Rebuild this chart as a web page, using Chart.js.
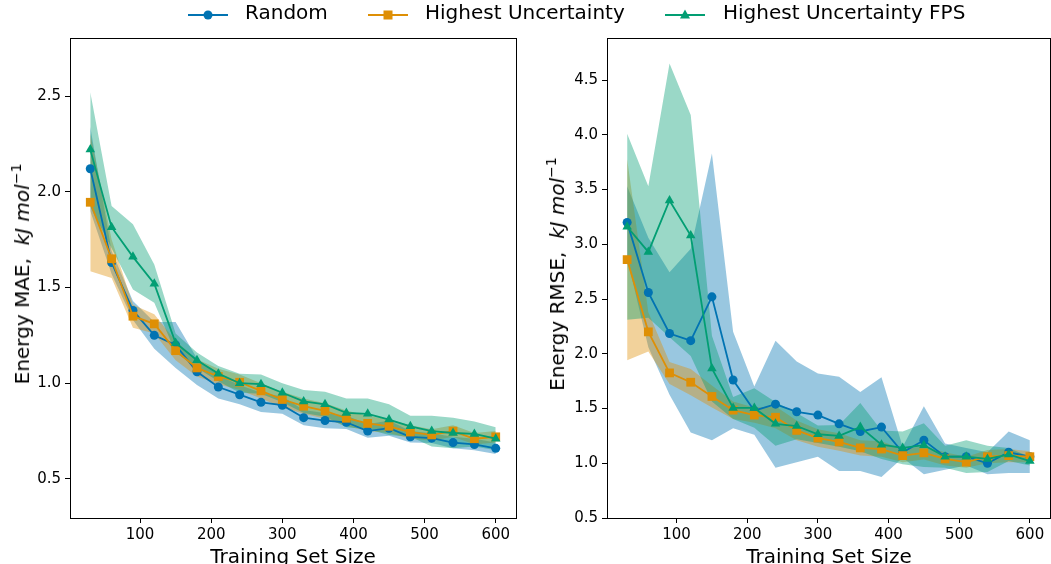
<!DOCTYPE html>
<html>
<head>
<meta charset="utf-8">
<script src="https://cdn.jsdelivr.net/npm/chart.js@4/dist/chart.umd.min.js"></script>
<style>
    body { margin: 0; width: 1051px; height: 564px; overflow: hidden; background: #fff; position: relative; font-family: 'DejaVu Sans', sans-serif; color: #000; }
    canvas { position: absolute; top: 0; }
    #c1 { left: 0; }
    #c2 { left: 530px; }
    .leg { position: absolute; top: 5px; height: 20px; }
    .leg-text { position: absolute; top: 2px; font-size: 20px; line-height: 20px; white-space: nowrap; }
    .ytitle { position: absolute; font-size: 20px; white-space: nowrap; transform: translate(-50%, -50%) rotate(-90deg); line-height: 1; }
    .ytitle i { font-style: italic; }
    .ytitle sup { font-size: 14px; vertical-align: 8px; line-height: 0; }
    .xtitle { position: absolute; top: 546px; font-size: 20px; line-height: 1; white-space: nowrap; transform: translateX(-50%); }
</style>
</head>
<body>
<canvas id="c1" width="530" height="564"></canvas>
<canvas id="c2" width="521" height="564"></canvas>

<svg class="leg" style="left:188px" width="40" height="20"><line x1="0" y1="10" x2="40" y2="10" stroke="#0173b2" stroke-width="2"/><circle cx="20" cy="10" r="4.5" fill="#0173b2"/></svg>
<div class="leg-text" style="left:245px">Random</div>
<svg class="leg" style="left:368px" width="40" height="20"><line x1="0" y1="10" x2="40" y2="10" stroke="#de8f05" stroke-width="2"/><rect x="15.5" y="5.5" width="9" height="9" fill="#de8f05"/></svg>
<div class="leg-text" style="left:425px">Highest Uncertainty</div>
<svg class="leg" style="left:665px" width="40" height="20"><line x1="0" y1="10" x2="40" y2="10" stroke="#029e73" stroke-width="2"/><polygon points="20,4.5 25,13.5 15,13.5" fill="#029e73"/></svg>
<div class="leg-text" style="left:723px">Highest Uncertainty FPS</div>

<div class="ytitle" style="left:22px;top:274px">Energy MAE,&nbsp; <i>kJ mol</i><sup>−1</sup></div>
<div class="ytitle" style="left:557px;top:274px">Energy RMSE,&nbsp; <i>kJ mol</i><sup>−1</sup></div>
<div class="xtitle" style="left:293px">Training Set Size</div>
<div class="xtitle" style="left:829px">Training Set Size</div>

<script>
// training set sizes
const sizes = [30, 60, 90, 120, 150, 180, 210, 240, 270, 300, 330, 360, 390, 420, 450, 480, 510, 540, 570, 600];

// energy MAE (mean and std)
const maeRandom = [2.12, 1.63, 1.38, 1.25, 1.20, 1.06, 0.98, 0.94, 0.90, 0.885, 0.82, 0.805, 0.796, 0.75, 0.765, 0.72, 0.713, 0.69, 0.68, 0.66];
const maeRandomStd = [0.22, 0.06, 0.05, 0.07, 0.12, 0.07, 0.06, 0.05, 0.05, 0.045, 0.04, 0.04, 0.035, 0.035, 0.04, 0.03, 0.025, 0.03, 0.03, 0.03];
const maeUnc = [1.945, 1.65, 1.35, 1.31, 1.17, 1.08, 1.035, 1.005, 0.96, 0.915, 0.88, 0.855, 0.817, 0.79, 0.775, 0.745, 0.73, 0.75, 0.71, 0.72];
const maeUncStd = [0.36, 0.10, 0.06, 0.05, 0.05, 0.045, 0.04, 0.04, 0.04, 0.04, 0.04, 0.04, 0.04, 0.04, 0.035, 0.035, 0.03, 0.03, 0.03, 0.03];
const maeFps = [2.22, 1.815, 1.66, 1.52, 1.21, 1.12, 1.05, 1.0, 0.995, 0.95, 0.905, 0.89, 0.845, 0.84, 0.81, 0.775, 0.75, 0.74, 0.735, 0.71];
const maeFpsStd = [0.30, 0.11, 0.17, 0.10, 0.05, 0.04, 0.04, 0.05, 0.05, 0.05, 0.06, 0.065, 0.075, 0.08, 0.08, 0.055, 0.08, 0.08, 0.065, 0.06];

// energy RMSE (mean and std)
const rmseRandom = [3.20, 2.56, 2.185, 2.12, 2.52, 1.76, 1.48, 1.54, 1.47, 1.44, 1.36, 1.29, 1.33, 1.10, 1.21, 1.06, 1.06, 1.00, 1.10, 1.06];
const rmseRandomStd = [0.33, 0.50, 0.56, 0.84, 1.31, 0.44, 0.22, 0.58, 0.46, 0.38, 0.43, 0.36, 0.455, 0.05, 0.31, 0.12, 0.08, 0.10, 0.19, 0.15];
const rmseUnc = [2.86, 2.20, 1.825, 1.74, 1.61, 1.485, 1.44, 1.42, 1.30, 1.23, 1.195, 1.14, 1.13, 1.07, 1.095, 1.04, 1.01, 1.06, 1.07, 1.06];
const rmseUncStd = [0.92, 0.18, 0.10, 0.12, 0.10, 0.08, 0.07, 0.10, 0.09, 0.08, 0.08, 0.07, 0.07, 0.06, 0.06, 0.06, 0.05, 0.06, 0.06, 0.05];
const rmseFps = [3.16, 2.93, 3.40, 3.08, 1.865, 1.505, 1.505, 1.36, 1.34, 1.265, 1.25, 1.33, 1.17, 1.14, 1.165, 1.06, 1.06, 1.04, 1.08, 1.02];
const rmseFpsStd = [0.85, 0.60, 1.25, 1.10, 0.30, 0.10, 0.18, 0.20, 0.12, 0.08, 0.10, 0.22, 0.13, 0.15, 0.20, 0.10, 0.15, 0.12, 0.06, 0.04];

// tick labels
const xTicks = [100, 200, 300, 400, 500, 600];
const maeTicks = [0.5, 1.0, 1.5, 2.0, 2.5];
const rmseTicks = [0.5, 1.0, 1.5, 2.0, 2.5, 3.0, 3.5, 4.0, 4.5];

const colors = { random: '#0173b2', unc: '#de8f05', fps: '#029e73' };
const bands = { random: 'rgba(1,115,178,0.4)', unc: 'rgba(222,143,5,0.4)', fps: 'rgba(2,158,115,0.4)' };

const pts = (vals) => sizes.map((x, i) => ({ x: x, y: vals[i] }));
const shifted = (vals, std, sign) => vals.map((v, i) => v + sign * std[i]);

// lower bound invisible, upper bound filled down to it
function band(vals, std, color, order) {
    return [
        { data: pts(shifted(vals, std, -1)), pointRadius: 0, borderWidth: 0, fill: false, order: order },
        { data: pts(shifted(vals, std, 1)), pointRadius: 0, borderWidth: 0, backgroundColor: color, fill: '-1', order: order },
    ];
}

function line(vals, color, style, radius, order) {
    return {
        data: pts(vals), borderColor: color, backgroundColor: color, borderWidth: 1.8,
        pointStyle: style, pointRadius: radius, pointBorderWidth: 0, fill: false, order: order,
    };
}

// full box around the plot area like matplotlib spines
const frame = {
    id: 'frame',
    afterDraw(chart) {
        const a = chart.chartArea, ctx = chart.ctx;
        ctx.save();
        ctx.strokeStyle = '#000';
        ctx.lineWidth = 1;
        ctx.strokeRect(Math.round(a.left) + 0.5, Math.round(a.top) + 0.5, Math.round(a.right - a.left), Math.round(a.bottom - a.top));
        ctx.restore();
    },
};

function makeChart(id, sets, yMin, yMax, yTicks, axisWidth, padRight) {
    const tickFont = { family: 'DejaVu Sans', size: 15 };
    return new Chart(document.getElementById(id), {
        type: 'line',
        data: {
            datasets: [
                ...band(sets[0][0], sets[0][1], bands.random, 5),
                ...band(sets[1][0], sets[1][1], bands.unc, 4),
                ...band(sets[2][0], sets[2][1], bands.fps, 3),
                line(sets[0][0], colors.random, 'circle', 4.5, 2),
                line(sets[1][0], colors.unc, 'rect', 6.2, 1),
                line(sets[2][0], colors.fps, 'triangle', 5.5, 0),
            ],
        },
        options: {
            responsive: false,
            animation: false,
            devicePixelRatio: 1,
            layout: { autoPadding: false, padding: { top: 38, right: padRight, left: 0, bottom: 0 } },
            plugins: { legend: { display: false }, tooltip: { enabled: false }, filler: { propagate: false } },
            elements: { line: { tension: 0 } },
            scales: {
                x: {
                    type: 'linear', min: 1.5, max: 628.5,
                    afterBuildTicks: (s) => { s.ticks = xTicks.map((v) => ({ value: v })); },
                    afterFit: (s) => { s.height = 46; },
                    grid: { drawOnChartArea: false, tickLength: 5, tickColor: '#000', tickWidth: 1 },
                    border: { display: false },
                    ticks: { color: '#000', font: tickFont, padding: 3, maxRotation: 0 },
                },
                y: {
                    type: 'linear', min: yMin, max: yMax,
                    afterBuildTicks: (s) => { s.ticks = yTicks.map((v) => ({ value: v })); },
                    afterFit: (s) => { s.width = axisWidth; },
                    grid: { drawOnChartArea: false, tickLength: 5, tickColor: '#000', tickWidth: 1 },
                    border: { display: false },
                    ticks: { color: '#000', font: tickFont, padding: 4, callback: (v) => v.toFixed(1) },
                },
            },
        },
        plugins: [frame],
    });
}

makeChart('c1', [[maeRandom, maeRandomStd], [maeUnc, maeUncStd], [maeFps, maeFpsStd]], 0.296, 2.803, maeTicks, 70, 14);
makeChart('c2', [[rmseRandom, rmseRandomStd], [rmseUnc, rmseUncStd], [rmseFps, rmseFpsStd]], 0.5, 4.884, rmseTicks, 77, 1);
</script>
</body>
</html>
